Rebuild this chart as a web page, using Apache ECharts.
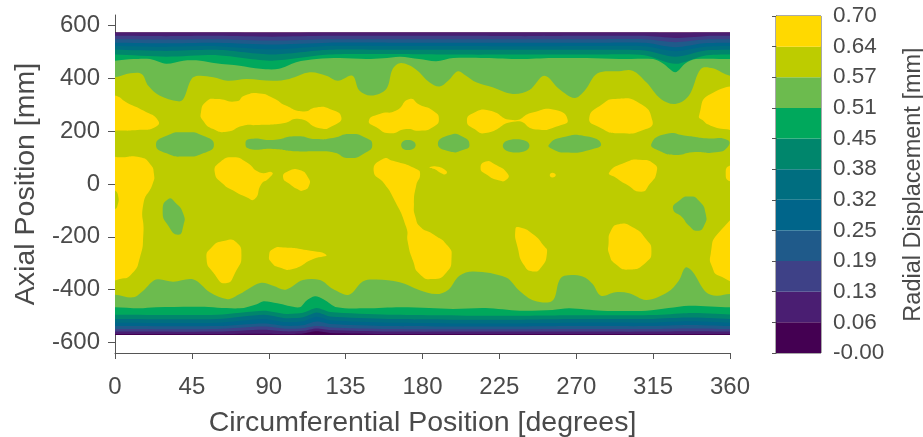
<!DOCTYPE html>
<html><head><meta charset="utf-8">
<script src="https://cdn.jsdelivr.net/npm/echarts@6/dist/echarts.min.js"></script>
<style>html,body{margin:0;padding:0;background:#fff}#c{width:923px;height:437px;filter:blur(0.5px)}</style>
</head><body><div id="c"></div>
<script>
const xTicks = [0,45,90,135,180,225,270,315,360];
const yTicks = [-600,-400,-200,0,200,400,600];
const levelLabels = ['-0.00','0.06','0.13','0.19','0.25','0.32','0.38','0.45','0.51','0.57','0.64','0.70'];
const bandColors = ['#440052','#4A1E72','#3E4187','#1F5A8A','#00658A','#006E80','#00866C','#00A85C','#6CBB4E','#BDCC00','#FFD900'];
const fieldTop = 575, fieldBottom = -572;

// outer contour levels: mm at shared circumferential positions
const topDeg = [-20,0,30,60,92,125,160,200,240,280,310,328,345,360,380];
const top06 = [573,573,573,573,572,573,573,573,573,573,573,572,573,573,573];
const top13 = [561,561,560,561,558,561,561,561,560,561,561,553,560,561,561];
const top19 = [548,548,547,548,543,548,548,548,548,548,548,537,547,548,548];
const top25 = [535,535,533,535,528,535,535,535,535,535,535,518,533,535,535];
const top32 = [523,523,520,522,510,523,523,523,522,523,522,503,520,523,523];
const top38 = [508,508,504,508,490,508,508,508,508,508,506,482,505,508,508];
const top45 = [490,490,482,488,467,490,492,490,490,490,488,455,486,490,490];
const botDeg = [-20,0,60,87,100,110,118,126,160,225,270,315,335,360,380];
const bot06 = [-568,-568,-568,-567,-568,-566,-558,-564,-568,-568,-568,-568,-568,-568,-568];
const bot13 = [-559,-559,-559,-552,-558,-556,-547,-553,-559,-559,-559,-559,-558,-559,-559];
const bot19 = [-549,-549,-549,-540,-548,-546,-538,-543,-549,-550,-549,-549,-547,-549,-549];
const bot25 = [-538,-538,-538,-528,-537,-535,-521,-530,-538,-540,-538,-538,-534,-538,-538];
const bot32 = [-525,-525,-525,-511,-523,-520,-503,-516,-525,-528,-525,-525,-520,-525,-525];
const bot38 = [-511,-511,-511,-495,-508,-505,-487,-502,-511,-514,-511,-511,-506,-511,-511];
const bot45 = [-495,-495,-495,-480,-492,-488,-470,-485,-495,-499,-497,-496,-489,-494,-494];

// 0.51 contour
const top51 = [[-20,470],[0,467],[10.7,473],[20.5,473],[30,455],[40,467],[50,467],[59,457],[73,448],[85,436],[96,436],[106,461],[118,473],[131.5,477],[147,473],[157,476],[167,482],[178,473],[188,465],[198,477],[217,477],[237,473],[256,477],[276,477],[295,473],[315,473],[321,455],[328,423],[334,457],[340,473],[360,473],[380,470]];
const bot51 = [[-20,-467],[0,-467],[14,-471],[24,-467],[50,-465],[73,-471],[83,-455],[87,-444],[95,-452],[108,-467],[112,-442],[117,-425],[122,-436],[130,-467],[147,-471],[167,-467],[184,-470],[198,-473],[217,-470],[237,-480],[256,-477],[266,-471],[285,-480],[311,-480],[324,-470],[336,-461],[360,-467],[380,-467]];

// 0.57 contour
const top57 = [[-20,408],[0,404],[9,419],[15.6,417],[19.5,372],[26,335],[37,313],[40,322],[44.8,398],[48.7,410],[57.5,404],[66,391],[77,398],[92.5,391],[102,398],[114,423],[123.7,410],[130.5,391],[139,410],[143,354],[150,335],[158.8,360],[162.6,436],[167.5,458],[176,435],[184,385],[190,369],[195,391],[200.7,427],[205.5,410],[211.4,385],[221,366],[232.8,341],[242.6,356],[251.3,410],[260,360],[269,326],[275,354],[282.5,419],[295,427],[303,429],[311,385],[319.5,322],[328,303],[336,335],[343,436],[350,438],[360,410],[380,408]];
const bot57 = [[-20,-419],[0,-419],[10.7,-429],[16.5,-404],[24,-362],[34,-370],[46,-362],[55.5,-410],[66,-436],[73,-417],[85,-375],[92.5,-385],[100,-400],[110,-364],[120,-364],[127.6,-398],[137,-419],[145,-369],[153,-362],[166.6,-372],[178,-401],[188,-417],[195,-401],[201.6,-347],[210,-331],[228.9,-354],[236.7,-404],[245.5,-442],[256,-442],[260,-366],[263,-347],[273.7,-350],[279.6,-379],[284.4,-423],[293,-410],[301,-414],[311,-439],[323.4,-410],[330,-366],[334,-316],[338,-331],[346,-410],[352,-423],[360,-417],[380,-417]];

// islands below 0.57
const lowIslands = [
 [[24,149],[30.2,183],[40.9,196],[51.6,183],[57.9,149],[51.6,116],[40.9,104],[30.2,116]],
 [[76.4,152],[78.9,170],[92.5,167],[106,181],[118,170],[127.6,174],[137.3,189],[147,174],[150.6,149],[147,120],[137.3,98],[127.6,120],[118,124],[106,124],[92.5,133],[78.9,133]],
 [[167.5,148],[171.4,167],[176,148],[171.4,129]],
 [[189,152],[196,186],[203.6,179],[207.5,148],[203.6,129],[196,123]],
 [[227,145],[234.8,169],[242.6,145],[234.8,119]],
 [[254,149],[262,177],[275.7,181],[284.5,152],[277.7,129],[264,119],[256,133]],
 [[314,152],[322.5,189],[334,183],[346,173],[358.5,167],[358.5,139],[351.6,120],[338,120],[328.3,110],[318.5,126]],
 [[27.9,-101],[31.2,-57],[35.1,-69],[40,-114],[40,-158],[37,-192],[31.2,-158]],
 [[326.7,-95],[330.2,-63],[336,-47],[341.8,-63],[345.8,-114],[344.8,-158],[341,-177],[336,-158],[332,-126]]
];

// islands above 0.64
const highIslands = [
 [[-8,335],[0,335],[6.8,309],[16.6,278],[25.3,240],[23.4,215],[14.6,205],[0,202],[-8,202]],
 [[50.3,271],[53.6,313],[59.4,322],[71,313],[76,335],[84.7,343],[92.5,326],[100,297],[110,275],[117.9,290],[125.7,284],[132.5,253],[127.6,221],[119.8,211],[108,246],[98.4,230],[82.8,223],[75,221],[65.3,198],[57.5,208],[51.6,240]],
 [[148.6,240],[154.9,265],[164.6,278],[172.4,322],[178.3,300],[186,278],[189.6,246],[186,215],[178.3,202],[170.5,208],[160.7,192],[153,215]],
 [[206,240],[210.4,271],[219,278],[232.8,242],[244.5,271],[258,280],[265,242],[260,221],[246.4,206],[234.8,237],[217,193],[210.4,208]],
 [[277.6,250],[285.4,303],[293,322],[307,306],[314.6,240],[310.8,208],[295,192],[283.5,215]],
 [[368,345],[348.7,341],[341.9,259],[343.9,242],[348.7,221],[358,207],[368,202]],
 [[-8,100],[3,101],[14.6,101],[20.5,76],[22.8,38],[22,0],[16.6,-76],[16.6,-189],[14.6,-278],[9.7,-341],[2.9,-360],[-8,-365]],
 [[58.4,44],[61.4,82],[69.2,101],[77,82],[84.7,44],[92,44],[89.6,19],[85.7,0],[81.8,-57],[77,-50],[69.2,-25],[63.3,0]],
 [[98.4,25],[101.3,48],[108,53],[113,25],[113.6,-6],[110,-25],[107,-20],[102.3,0]],
 [[151.4,50],[156.8,95],[162.7,88],[176.3,57],[178.6,38],[176.3,-6],[175,-76],[175.9,-126],[179,-164],[186,-189],[194.8,-234],[197,-278],[194,-335],[186,-360],[178.3,-341],[174.4,-290],[171.4,-221],[170.5,-164],[162.7,-50],[157.8,0]],
 [[184,61],[188,66],[193.8,50],[193.8,38],[191,41],[187,57]],
 [[214,61],[217,85],[222,76],[230,38],[229,16],[225,13],[217,38]],
 [[254.5,34],[256,43],[258,34],[256,25]],
 [[289.3,44],[299,82],[307,92],[315.6,76],[317,44],[313,0],[308,-29],[299,0],[293,25]],
 [[234.4,-170],[236.7,-164],[244.5,-189],[251,-234],[252.9,-259],[249.4,-316],[244.5,-331],[239.6,-309],[235.7,-240]],
 [[288.9,-227],[290.3,-177],[295,-152],[303,-164],[310.8,-208],[314,-253],[310.8,-297],[301,-324],[293,-303],[289.3,-265]],
 [[368,70],[360,70],[357.5,40],[360,10],[368,10]],
 [[368,-126],[353.6,-183],[348.7,-265],[349.7,-316],[353.6,-347],[368,-365]],
 [[90.2,-271],[92.5,-246],[98.4,-240],[112,-250],[123.7,-269],[116,-284],[104,-322],[96.4,-316],[91.6,-297]],
 [[53.6,-284],[56.5,-240],[64.3,-215],[71,-221],[74,-271],[71,-328],[64.9,-376],[57.5,-335]]
];
// olive hole inside the left yellow area
const oliveHoles = [[[-4,-25],[0,-25],[2,-50],[1.5,-80],[0,-95],[-4,-95]]];

const zip = (d, v) => d.map((x, i) => [x, v[i]]);
const band = (t, b) => t.concat(b.slice().reverse());
const regions = [];
const add = (pts, color, smooth) => regions.push({pts, color, smooth});
add([[0,fieldTop],[360,fieldTop],[360,fieldBottom],[0,fieldBottom]], bandColors[0], 0);
[[top06,bot06],[top13,bot13],[top19,bot19],[top25,bot25],[top32,bot32],[top38,bot38],[top45,bot45]].forEach((p, i) => {
  add(band(zip(topDeg,p[0]), zip(botDeg,p[1])), bandColors[i+1], 0.25);
});
add(band(top51, bot51), bandColors[8], 0.3);
add(band(top57, bot57), bandColors[9], 0.35);
lowIslands.forEach(p => add(p, bandColors[8], 0.6));
highIslands.forEach(p => add(p, bandColors[10], 0.6));
oliveHoles.forEach(p => add(p, bandColors[9], 0.5));

const textColor = '#4a4a4a', lineColor = '#555555';
const fontFamily = '"Liberation Sans", Arial, sans-serif';
const chart = echarts.init(document.getElementById('c'), null, {renderer:'canvas'});
chart.setOption({
  animation:false,
  backgroundColor:'#fff',
  grid:[
    {left:115,top:15,width:615,height:338,containLabel:false,outerBoundsMode:'none'},
    {left:776,top:16,width:45,height:337,show:true,borderColor:lineColor,borderWidth:1,backgroundColor:'transparent',outerBoundsMode:'none'}
  ],
  xAxis:[
    {gridIndex:0,type:'value',min:0,max:360,interval:45,
     name:'Circumferential Position [degrees]',nameLocation:'middle',nameGap:56,
     nameTextStyle:{fontSize:28.5,color:textColor,fontFamily},
     axisLine:{onZero:false,lineStyle:{color:lineColor,width:1}},
     axisTick:{length:6,lineStyle:{color:lineColor}},
     axisLabel:{fontSize:24,color:textColor,fontFamily,margin:22,hideOverlap:false,showMinLabel:true,showMaxLabel:true},
     splitLine:{show:false}},
    {gridIndex:1,type:'value',min:0,max:1,show:false}
  ],
  yAxis:[
    {gridIndex:0,type:'value',min:-640,max:640,
     name:'Axial Position [mm]',nameLocation:'middle',nameGap:70,
     nameTextStyle:{fontSize:28.5,color:textColor,fontFamily},
     axisLine:{show:true,onZero:false,lineStyle:{color:lineColor,width:1}},
     axisTick:{show:true,length:7,customValues:yTicks,lineStyle:{color:lineColor}},
     axisLabel:{fontSize:24,color:textColor,fontFamily,margin:15,customValues:yTicks},
     splitLine:{show:false}},
    {gridIndex:1,type:'value',position:'right',min:0,max:11,interval:1,
     name:'Radial Displacement [mm]',nameLocation:'middle',nameGap:81,nameRotate:90,
     nameTextStyle:{fontSize:23.5,color:textColor,fontFamily},
     axisLine:{show:true,lineStyle:{color:lineColor}},
     axisTick:{show:true,inside:true,length:4,lineStyle:{color:lineColor}},
     axisLabel:{fontSize:22.5,color:textColor,fontFamily,margin:12,padding:[2,0,0,0],
       formatter:(v)=>levelLabels[Math.round(v)]},
     splitLine:{show:false}}
  ],
  series:[
    {type:'custom',xAxisIndex:0,yAxisIndex:0,clip:true,silent:true,
     data:regions.map((r,i)=>[i]),encode:{x:[],y:[]},
     renderItem:(params,api)=>{
       const r=regions[params.dataIndex];
       return {type:'polygon',shape:{points:r.pts.map(p=>api.coord(p)),smooth:r.smooth},style:{fill:r.color}};
     }},
    {type:'custom',xAxisIndex:1,yAxisIndex:1,clip:true,silent:true,z:1,
     data:bandColors.map((c,i)=>[i]),encode:{x:[],y:[]},
     renderItem:(params,api)=>{
       const i=params.dataIndex;
       return {type:'polygon',shape:{points:[[0,i],[1,i],[1,i+1],[0,i+1]].map(p=>api.coord(p))},style:{fill:bandColors[i]}};
     }}
  ]
});
</script></body></html>
